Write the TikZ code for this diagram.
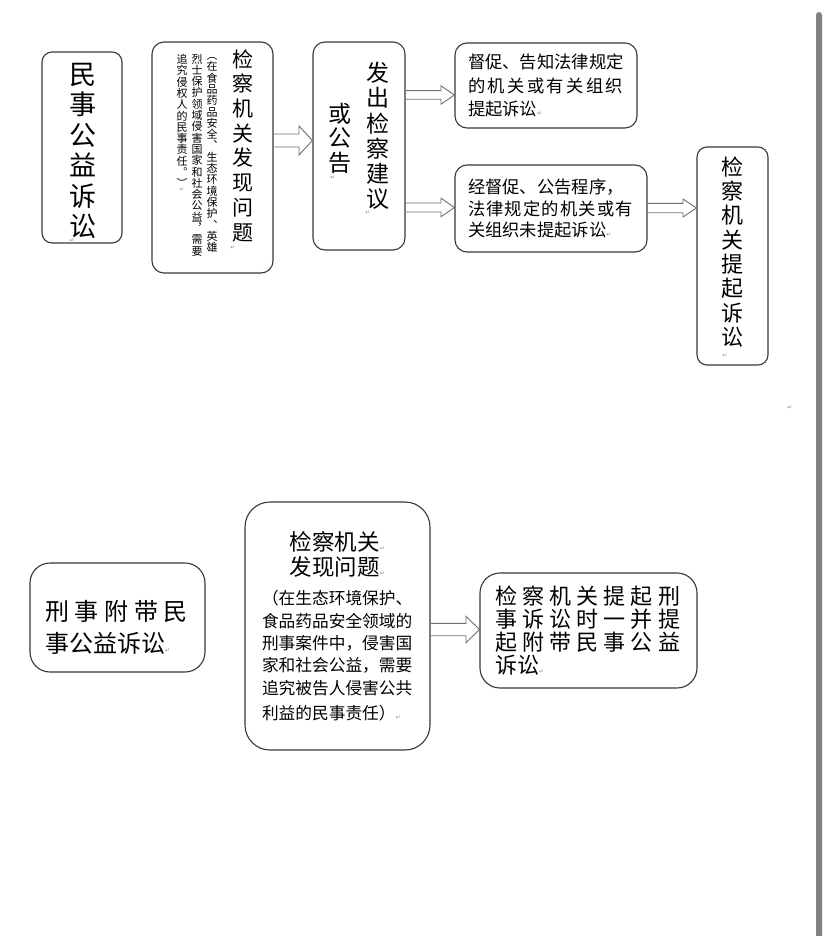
\documentclass[tikz,border=0pt]{standalone}
\usepackage{fontspec}
\usepackage{tikz}
\usetikzlibrary{calc}
\newfontfamily\cjk{Noto Sans CJK SC}
\newfontfamily\markfont{DejaVu Sans}
\definecolor{framec}{HTML}{383838}
\definecolor{arrowc}{HTML}{707070}
\definecolor{barc}{HTML}{828282}
\definecolor{markc}{HTML}{8A8A8A}
\newcommand{\retmark}{{\markfont\fontsize{6}{6}\selectfont\textcolor{markc}{↵}}}
\newcommand{\spreadline}[2]{\makebox[#1][s]{\spaceskip=0pt plus 1fil\xspaceskip=0pt plus 1fil\relax #2}}
\newcommand{\hollowarrow}[5]{%
  \draw[arrowline] let \p1=(#1.east), \p2=(#2.west), \p3=(0,#3) in
    (\x1,\y3+#4pt) -- (\x2-13.5pt,\y3+#4pt) -- (\x2-13.5pt,\y3+#5pt) -- (\x2,\y3)
    -- (\x2-13.5pt,\y3-#5pt) -- (\x2-13.5pt,\y3-#4pt) -- (\x1,\y3-#4pt);
}
\tikzset{
  box/.style={draw=framec, line width=1.1pt, rounded corners=#1, inner sep=0pt},
  box/.default=11pt,
  vtext/.style={align=center, inner sep=0pt},
  arrowline/.style={draw=arrowc, line width=0.9pt, line join=miter},
  pmark/.style={inner sep=0pt, font=\markfont\fontsize{6}{6}\selectfont, text=markc},
}

\begin{document}
\begin{tikzpicture}[x=1pt,y=-1pt]
  \useasboundingbox[fill=white] (0,0) rectangle (828,936);
  \fill[barc, rounded corners=3pt] (816,12) rectangle (822,950);

  \node[box=10pt, minimum width=80pt, minimum height=191pt] (civil) at (82,147.5) {};
  \node[vtext, font=\cjk\fontsize{27}{30.4}\selectfont] (civilT) at (83,151) {民\\事\\公\\益\\诉\\讼};
  \node[pmark] (markA) at (72,241) {↵};

  \node[box=12pt, minimum width=121pt, minimum height=231pt] (findB) at (212.5,157.5) {};
  \node[vtext, font=\cjk\fontsize{21}{24.7}\selectfont] (findBT) at (243,145.5) {检\\察\\机\\关\\发\\现\\问\\题};
  \node[vtext, font=\cjk\fontsize{11}{11.3}\selectfont] (findBa) at (212,155)
    {︵\\在\\食\\品\\药\\品\\安\\全\\︑\\生\\态\\环\\境\\保\\护\\︑\\英\\雄};
  \node[vtext, font=\cjk\fontsize{11}{11.3}\selectfont] (findBb) at (197,155)
    {烈\\士\\保\\护\\领\\域\\侵\\害\\国\\家\\和\\社\\会\\公\\益\\︐\\需\\要};
  \node[vtext, font=\cjk\fontsize{11}{11.3}\selectfont] (findBc) at (182,121)
    {追\\究\\侵\\权\\人\\的\\民\\事\\责\\任\\︒\\︶};
  \node[pmark] (markB) at (233,248) {↵};
  \node[pmark] (markBc) at (182,190) {↵};

  \node[box=12pt, minimum width=92pt, minimum height=208pt] (notice) at (359,146) {};
  \node[vtext, font=\cjk\fontsize{23}{25.2}\selectfont] (noticeTa) at (378,136) {发\\出\\检\\察\\建\\议};
  \node[vtext, font=\cjk\fontsize{23}{24.5}\selectfont] (noticeTb) at (340,138) {或\\公\\告};
  \node[pmark] (markCa) at (368,213) {↵};
  \node[pmark] (markCb) at (333,178) {↵};

  \node[box=12pt, text width=156pt, inner xsep=13pt, minimum height=85pt, align=left,
    font=\cjk\fontsize{17.3}{23.5}\selectfont] (urge) at (546,85.5)
    {督促、告知法律规定\\\spreadline{155pt}{的 机 关 或 有 关 组 织}\\提起诉讼\retmark};

  \node[box=12pt, text width=166pt, inner xsep=13pt, minimum height=87pt, align=left,
    font=\cjk\fontsize{17.3}{21.7}\selectfont] (fail) at (551,208.5)
    {经督促、公告程序，\\\spreadline{165pt}{法 律 规 定 的 机 关 或 有}\\关组织未提起诉讼\retmark};

  \node[box=10pt, minimum width=71pt, minimum height=218pt] (sue) at (732.5,256) {};
  \node[vtext, font=\cjk\fontsize{22}{24.3}\selectfont] (sueT) at (732,252) {检\\察\\机\\关\\提\\起\\诉\\讼};
  \node[pmark] (markF) at (725,356) {↵};

  \node[pmark] (markGap) at (790,408) {↵};

  \node[box=20pt, text width=145pt, inner xsep=15pt, minimum height=109pt, align=left,
    text depth=14pt, font=\cjk\fontsize{24}{32}\selectfont] (crimcivil) at (117.5,617.5)
    {\spreadline{143pt}{刑 事 附 带 民}\\事公益诉讼\retmark};

  \node[box=25pt, text width=151pt, inner xsep=17pt, minimum height=248pt, align=left,
    font=\cjk\fontsize{22.5}{25}\selectfont] (findH) at (337.5,626)
    {\makebox[151pt]{检察机关\retmark}\\\makebox[151pt]{发现问题\retmark}\\[7pt]
     \fontsize{16.7}{22.4}\selectfont （在生态环境保护、\\食品药品安全领域的\\刑事案件中，侵害国\\
     家和社会公益，需要\\追究被告人侵害公共\\利益的民事责任）\retmark};

  \node[box=20pt, text width=187pt, inner xsep=15pt, minimum height=115pt, align=left,
    font=\cjk\fontsize{22}{23}\selectfont] (joint) at (588.5,630.5)
    {\spreadline{185pt}{检 察 机 关 提 起 刑}\\\spreadline{185pt}{事 诉 讼 时 一 并 提}\\
     \spreadline{185pt}{起 附 带 民 事 公 益}\\诉讼\retmark};

  \hollowarrow{findB}{notice}{140.5}{6.5}{14.5}
  \hollowarrow{notice}{urge}{95}{4.3}{9.2}
  \hollowarrow{notice}{fail}{207.5}{4.5}{9.3}
  \hollowarrow{fail}{sue}{208}{4.7}{9}
  \hollowarrow{findH}{joint}{629.5}{6.2}{13.3}
\end{tikzpicture}
\end{document}
